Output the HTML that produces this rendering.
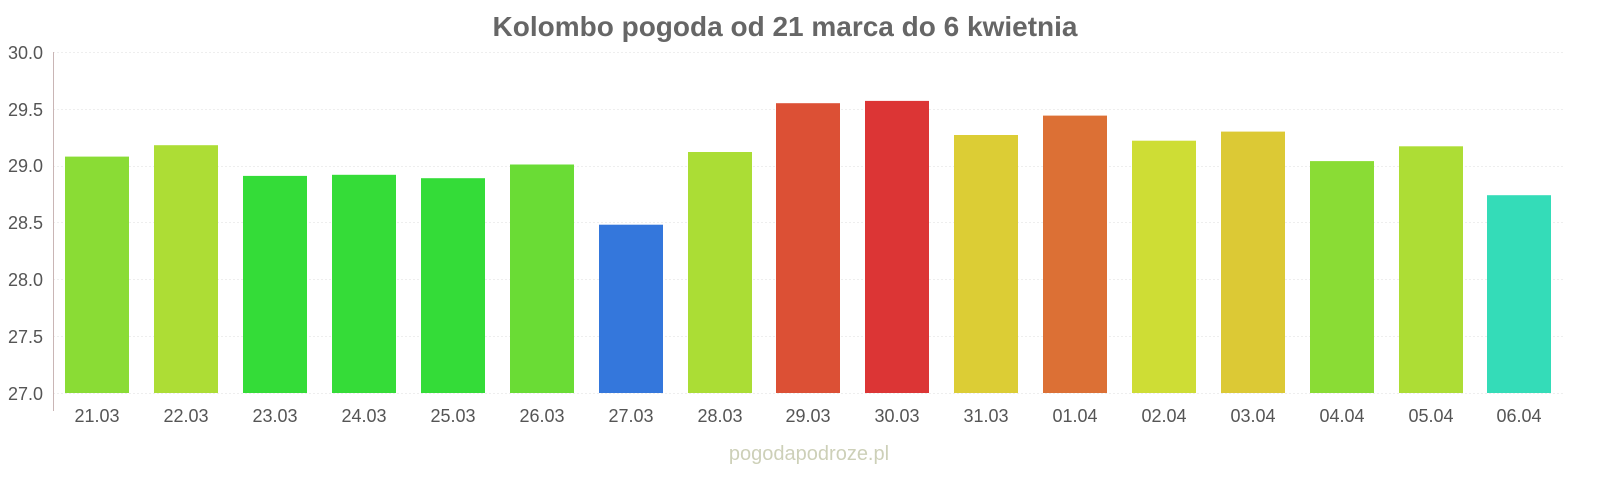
<!DOCTYPE html>
<html><head><meta charset="utf-8"><style>html,body{margin:0;padding:0;background:#fff}svg{display:block}</style></head>
<body>
<svg width="1600" height="480" xmlns="http://www.w3.org/2000/svg" font-family="Liberation Sans, sans-serif">
<text x="785" y="36" text-anchor="middle" font-size="28" font-weight="bold" fill="#666">Kolombo pogoda od 21 marca do 6 kwietnia</text>
<g stroke="#eee" stroke-width="1" stroke-dasharray="2,2">
<line x1="53" x2="1565" y1="52.5" y2="52.5"/><line x1="53" x2="1565" y1="109.5" y2="109.5"/><line x1="53" x2="1565" y1="166.5" y2="166.5"/><line x1="53" x2="1565" y1="222.5" y2="222.5"/><line x1="53" x2="1565" y1="279.5" y2="279.5"/><line x1="53" x2="1565" y1="336.5" y2="336.5"/><line x1="53" x2="1565" y1="393.5" y2="393.5"/>
</g>
<line x1="53.5" x2="53.5" y1="52" y2="411" stroke="#c9b5b5"/>
<g font-size="18" fill="#555" text-anchor="end">
<text x="43" y="59">30.0</text><text x="43" y="116">29.5</text><text x="43" y="172">29.0</text><text x="43" y="229">28.5</text><text x="43" y="286">28.0</text><text x="43" y="343">27.5</text><text x="43" y="400">27.0</text>
</g>
<g>
<rect x="65" y="156.6" width="64" height="236.4" fill="#8adc35"/>
<rect x="154" y="145.2" width="64" height="247.8" fill="#addd35"/>
<rect x="243" y="175.9" width="64" height="217.1" fill="#34dc38"/>
<rect x="332" y="174.8" width="64" height="218.2" fill="#35dc38"/>
<rect x="421" y="178.2" width="64" height="214.8" fill="#34dc38"/>
<rect x="510" y="164.5" width="64" height="228.5" fill="#6adc35"/>
<rect x="599" y="224.7" width="64" height="168.3" fill="#3477dc"/>
<rect x="688" y="152" width="64" height="241" fill="#abdd35"/>
<rect x="776" y="103.2" width="64" height="289.8" fill="#dc5035"/>
<rect x="865" y="100.9" width="64" height="292.1" fill="#dc3535"/>
<rect x="954" y="135" width="64" height="258" fill="#dccd35"/>
<rect x="1043" y="115.6" width="64" height="277.4" fill="#dc7035"/>
<rect x="1132" y="140.7" width="64" height="252.3" fill="#cedd35"/>
<rect x="1221" y="131.6" width="64" height="261.4" fill="#dcc935"/>
<rect x="1310" y="161.1" width="64" height="231.9" fill="#8adc35"/>
<rect x="1399" y="146.3" width="64" height="246.7" fill="#addd35"/>
<rect x="1487" y="195.2" width="64" height="197.8" fill="#34dcb8"/>
</g>
<g font-size="18" fill="#555" text-anchor="middle">
<text x="97" y="422">21.03</text><text x="186" y="422">22.03</text><text x="275" y="422">23.03</text><text x="364" y="422">24.03</text><text x="453" y="422">25.03</text><text x="542" y="422">26.03</text><text x="631" y="422">27.03</text><text x="720" y="422">28.03</text><text x="808" y="422">29.03</text><text x="897" y="422">30.03</text><text x="986" y="422">31.03</text><text x="1075" y="422">01.04</text><text x="1164" y="422">02.04</text><text x="1253" y="422">03.04</text><text x="1342" y="422">04.04</text><text x="1431" y="422">05.04</text><text x="1519" y="422">06.04</text>
</g>
<text x="809" y="460" text-anchor="middle" font-size="20" fill="#cdd0b8">pogodapodroze.pl</text>
</svg>
</body></html>
